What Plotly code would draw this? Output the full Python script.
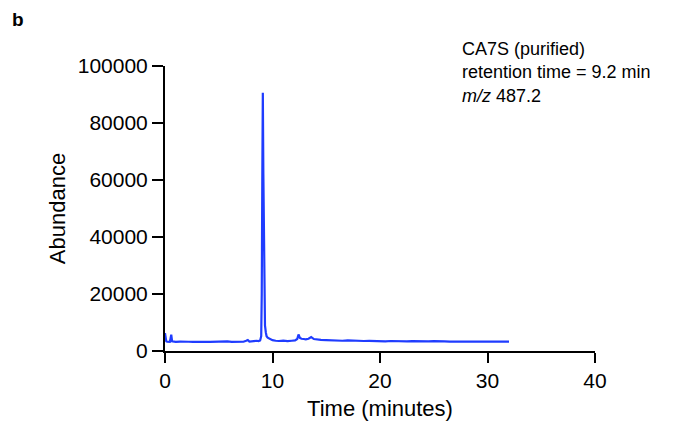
import plotly.graph_objects as go

time_min = [0.0, 0.05, 0.12, 0.2, 0.3, 0.45, 0.52, 0.58, 0.66, 0.8, 1.0, 1.4, 1.8, 2.2, 2.6, 3.0, 3.4, 3.8,
            4.2, 4.6, 5.0, 5.4, 5.8, 6.2, 6.6, 7.0, 7.3, 7.55, 7.7, 7.85, 8.1, 8.3, 8.5, 8.7, 8.85,
            8.95, 9.0, 9.05, 9.1, 9.15, 9.2, 9.25, 9.3, 9.38, 9.45, 9.55, 9.7, 9.85, 10.0, 10.3,
            10.6, 11.0, 11.4, 11.8, 12.1, 12.3, 12.42, 12.55, 12.7, 12.9, 13.1, 13.35, 13.6, 13.85,
            14.1, 14.5, 15.0, 15.5, 16.0, 16.5, 17.0, 17.5, 18.0, 18.5, 19.0, 19.5, 20.0, 20.5,
            21.0, 21.5, 22.0, 22.5, 23.0, 23.5, 24.0, 24.5, 25.0, 25.5, 26.0, 26.5, 27.0, 27.5,
            28.0, 29.0, 30.0, 31.0, 32.0]
abundance = [6300, 5200, 3400, 3250, 3300, 3200, 4500, 5700, 3400, 3250, 3200, 3300, 3150, 3250, 3200,
             3300, 3150, 3250, 3200, 3300, 3200, 3250, 3350, 3200, 3300, 3400, 3250, 3600, 3850, 3300,
             3450, 3350, 3600, 3500, 3700, 5200, 20000, 60000, 90600, 62000, 30000, 14000, 9000,
             6500, 5200, 4700, 4300, 3900, 3800, 3600, 3500, 3650, 3450, 3600, 3700, 4200, 5800,
             4600, 4300, 4200, 4100, 4300, 4900, 4200, 4000, 3900, 3800, 3700, 3800, 3600, 3700,
             3550, 3650, 3500, 3550, 3450, 3500, 3400, 3500, 3400, 3450, 3350, 3450, 3350, 3400,
             3350, 3450, 3300, 3400, 3300, 3350, 3300, 3300, 3300, 3300, 3300, 3300]

x_ticks = [0, 10, 20, 30, 40]
y_ticks = [0, 20000, 40000, 60000, 80000, 100000]
y_ticktext = ["0", "20000", "40000", "60000", "80000", "100000"]

fig = go.Figure()
fig.add_trace(go.Scatter(x=time_min, y=abundance, mode="lines",
                         line=dict(color="#1f3cff", width=2.2), showlegend=False))

font_family = "Liberation Sans, Arial, sans-serif"
fig.update_layout(
    width=698, height=425,
    margin=dict(l=165, r=103, t=66, b=74),
    paper_bgcolor="white", plot_bgcolor="white",
    font=dict(family=font_family, color="black", size=21),
    xaxis=dict(range=[0, 40], tickvals=x_ticks, showgrid=False, zeroline=False,
               showline=True, linecolor="black", linewidth=2, ticks="outside",
               ticklen=10, tickwidth=2, tickcolor="black", tickfont=dict(size=21),
               automargin=False,
               title=dict(text="Time (minutes)", font=dict(size=22), standoff=9)),
    yaxis=dict(range=[0, 100000], tickvals=y_ticks, ticktext=y_ticktext, showgrid=False,
               zeroline=False, showline=True, linecolor="black", linewidth=2, ticks="outside",
               ticklen=11, tickwidth=2, tickcolor="black", tickfont=dict(size=21),
               automargin=False,
               title=dict(text="Abundance", font=dict(size=22), standoff=6)),
    annotations=[
        dict(text="<b>b</b>", x=10, y=19, xref="paper", yref="paper", showarrow=False,
             font=dict(size=19)),
        dict(text="CA7S (purified)<br>retention time = 9.2 min<br><i>m/z</i> 487.2",
             xref="paper", yref="paper", showarrow=False, align="left",
             font=dict(size=18)),
    ],
)
W, H = 698, 425
pw, ph = W - 165 - 103, H - 66 - 74
fig.layout.annotations[0].update(x=(10 - 165) / pw, y=(H - 74 - 20) / ph, xanchor="left", yanchor="middle")
fig.layout.annotations[1].update(x=(460 - 165) / pw, y=(H - 74 - 37) / ph, xanchor="left", yanchor="top")

fig.write_html("out.html")
